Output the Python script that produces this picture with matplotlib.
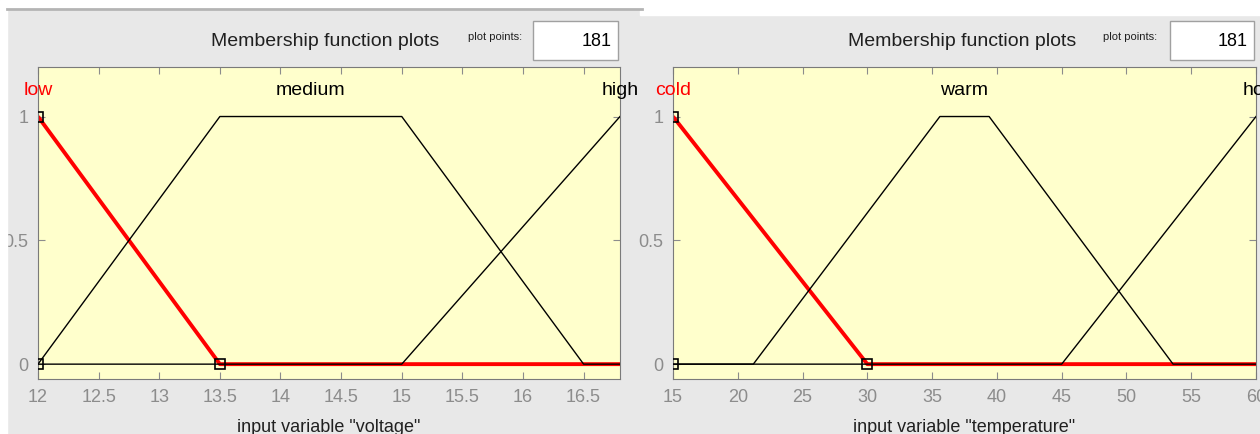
import matplotlib
import matplotlib.pyplot as plt
from matplotlib.patches import Rectangle

matplotlib.use("Agg")

W, H = 1260, 434
PANEL_BG = "#FFFFCC"
FIG_BG = "#E8E8E8"
TICK_GRAY = "#8C8C8C"
RED = "#FF0000"
FONT = ["Liberation Sans Narrow", "Liberation Sans", "DejaVu Sans"]

# voltage input
volt_range = [12, 16.8]
volt_ticks = [12, 12.5, 13, 13.5, 14, 14.5, 15, 15.5, 16, 16.5]
volt_names = ["low", "medium", "high"]
volt_low_x = [12, 13.5, 16.8]
volt_low_y = [1, 0, 0]
volt_med_x = [12, 13.5, 15, 16.5, 16.8]
volt_med_y = [0, 1, 1, 0, 0]
volt_high_x = [12, 15, 16.8]
volt_high_y = [0, 0, 1]
volt_label_x = [12, 14.25, 16.8]
volt_handles_x = [12, 12, 13.5]
volt_handles_y = [0, 1, 0]

# temperature input
temp_range = [15, 60]
temp_ticks = [15, 20, 25, 30, 35, 40, 45, 50, 55, 60]
temp_names = ["cold", "warm", "hot"]
temp_cold_x = [15, 30, 60]
temp_cold_y = [1, 0, 0]
temp_warm_x = [15, 21.2, 35.6, 39.4, 53.6, 60]
temp_warm_y = [0, 0, 1, 1, 0, 0]
temp_hot_x = [15, 45, 60]
temp_hot_y = [0, 0, 1]
temp_label_x = [15, 37.5, 60]
temp_handles_x = [15, 15, 30]
temp_handles_y = [0, 1, 0]


def fx(x):
    return x / W


def fy(y):
    return 1 - y / H


fig = plt.figure(figsize=(W / 100, H / 100), dpi=100, facecolor=FIG_BG)

# screenshot borders
fig.patches.append(Rectangle((0, fy(9)), 1, 9 / H, transform=fig.transFigure, color="white", zorder=0))
fig.patches.append(Rectangle((fx(640), fy(15)), 1, 6 / H, transform=fig.transFigure, color="white", zorder=0))
fig.patches.append(Rectangle((0, 0), fx(7), 1, transform=fig.transFigure, color="white", zorder=0))
fig.lines.append(plt.Line2D([fx(7), fx(642)], [fy(9), fy(9)], transform=fig.transFigure, color="#B4B4B4", lw=2))


def panel(x0, x1, xr, ticks, mfs, names, label_x, hx, hy, varname, head_cx, pp_x, box_x0, box_x1):
    ax = fig.add_axes([fx(x0), fy(379), fx(x1 - x0), (379 - 67) / H])
    ax.set_facecolor(PANEL_BG)
    ax.set_xlim(xr)
    ax.set_ylim(-0.06, 1.2)
    ax.set_xticks(ticks)
    ax.set_xticklabels([f"{t:g}" for t in ticks])
    ax.set_yticks([0, 0.5, 1])
    ax.set_yticklabels(["0", "0.5", "1"])
    ax.tick_params(direction="in", length=5, top=True, right=True, colors=TICK_GRAY,
                   labelsize=13, labelcolor=TICK_GRAY, pad=7)
    for lab in ax.get_xticklabels() + ax.get_yticklabels():
        lab.set_family(FONT)
    for s in ax.spines.values():
        s.set_color("#7A7A7A")
    (sx, sy), rest = mfs[0], mfs[1:]
    ax.plot(sx, sy, color=RED, lw=2.8, zorder=2, solid_capstyle="butt")
    for x, y in rest:
        ax.plot(x, y, color="black", lw=1, zorder=3)
    ax.plot(hx, hy, ls="none", marker="s", ms=7, mfc="none", mec="black", mew=1.2, zorder=4)
    for i, (name, lx) in enumerate(zip(names, label_x)):
        ax.text(lx, 1.105, name, ha="center", va="center", fontsize=14, family=FONT,
                color=RED if i == 0 else "black", clip_on=False)
    fig.text(fx(head_cx), fy(42), "Membership function plots", ha="center", va="center",
             fontsize=14, family=FONT, color="#202020")
    fig.text(fx(pp_x), fy(37), "plot points:", ha="center", va="center", fontsize=8,
             family=FONT, color="#202020")
    fig.patches.append(Rectangle((fx(box_x0), fy(60)), fx(box_x1 - box_x0), 39 / H,
                                 transform=fig.transFigure, facecolor="white",
                                 edgecolor="#A0A0A0", lw=1))
    fig.text(fx(box_x1 - 6), fy(42), "181", ha="right", va="center", fontsize=13,
             family=FONT, color="black")
    fig.text(fx((x0 + x1) / 2 if x1 < W else head_cx), fy(428), f'input variable "{varname}"',
             ha="center", va="center", fontsize=13, family=FONT, color="#202020")
    return ax


panel(38, 620, volt_range, volt_ticks,
      [(volt_low_x, volt_low_y), (volt_med_x, volt_med_y), (volt_high_x, volt_high_y)],
      volt_names, volt_label_x, volt_handles_x, volt_handles_y, "voltage", 325, 495, 533, 618)
panel(673, 1256, temp_range, temp_ticks,
      [(temp_cold_x, temp_cold_y), (temp_warm_x, temp_warm_y), (temp_hot_x, temp_hot_y)],
      temp_names, temp_label_x, temp_handles_x, temp_handles_y, "temperature", 962, 1130, 1170, 1254)

fig.savefig("out.png", dpi=100, facecolor=FIG_BG)
